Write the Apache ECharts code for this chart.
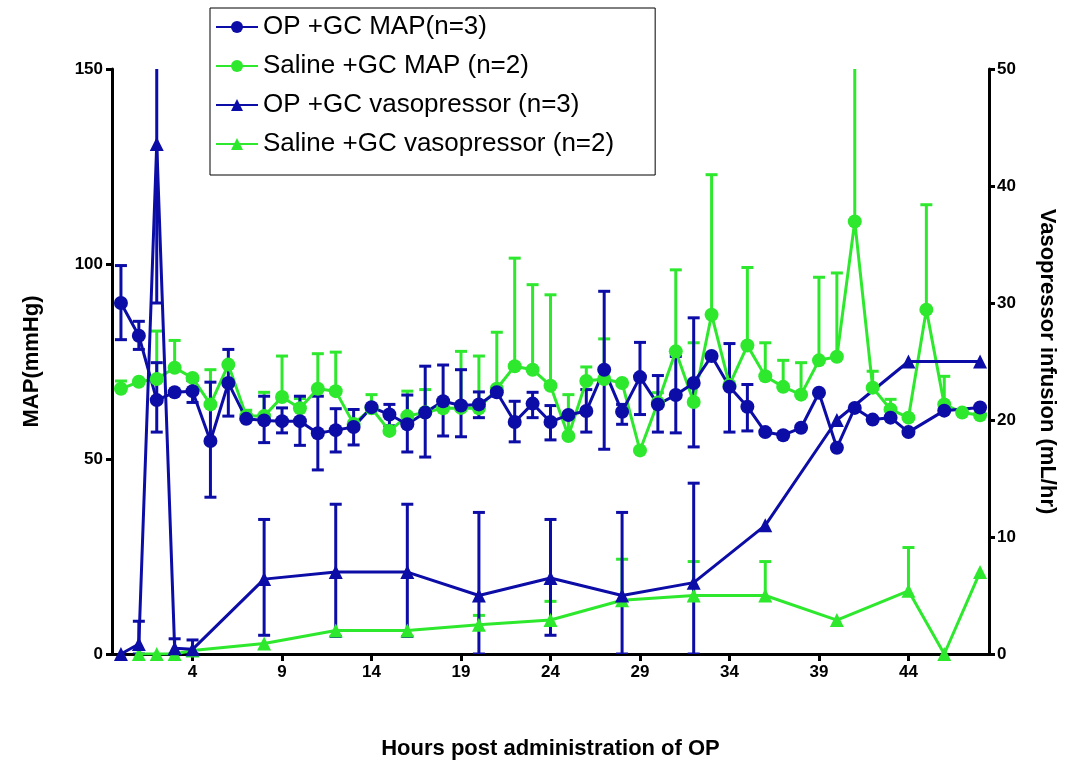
<!DOCTYPE html>
<html>
<head>
<meta charset="utf-8">
<script src="https://cdn.jsdelivr.net/npm/echarts@6/dist/echarts.min.js"></script>
<style>
  html, body { margin: 0; padding: 0; background: #fff; }
  #chart { width: 1066px; height: 765px; }
</style>
</head>
<body>
<div id="chart"></div>
<script>
// OP + GC MAP (left axis)
const opMapHours = [0,1,2,3,4,5,6,7,8,9,10,11,12,13,14,15,16,17,18,19,20,21,22,23,24,25,26,27,28,29,30,31,32,33,34,35,36,37,38,39,40,41,42,43,44,46,48];
const opMap = [90.0,81.6,65.1,67.1,67.4,54.6,69.5,60.3,59.9,59.7,59.7,56.6,57.4,58.2,63.3,61.4,58.9,61.9,64.8,63.7,64.0,67.1,59.5,64.2,59.5,61.3,62.3,72.9,62.1,71.0,64.0,66.4,69.5,76.4,68.5,63.4,56.9,56.1,58.0,67.0,52.9,63.1,60.1,60.6,56.9,62.4,63.2];
const opMapLow = [80.6,78.1,56.9,null,64.5,40.2,61.0,null,54.2,56.7,53.5,47.2,51.8,53.6,null,58.5,51.8,50.5,55.9,55.7,60.6,null,54.4,60.6,54.9,null,56.9,52.5,58.9,61.4,56.9,56.7,53.1,null,56.9,57.2,null,null,null,null,null,null,null,null,null,null,null];
const opMapHigh = [99.6,85.3,74.7,null,70.1,69.7,78.1,null,66.1,63.1,66.1,66.1,62.9,62.7,null,64.0,66.4,73.8,74.1,72.9,67.2,null,64.8,67.1,63.7,null,67.8,93.0,64.0,79.9,71.4,76.3,86.2,null,79.6,69.1,null,null,null,null,null,null,null,null,null,null,null];

// Saline + GC MAP (left axis)
const salMapHours = [0,1,2,3,4,5,6,7,8,9,10,11,12,13,14,15,16,17,18,19,20,21,22,23,24,25,26,27,28,29,30,31,32,33,34,35,36,37,38,39,40,41,42,43,44,45,46,47,48];
const salMap = [68.0,69.8,70.5,73.4,70.8,64.0,74.2,61.0,61.0,65.9,63.0,68.0,67.4,59.0,63.0,57.2,61.0,62.0,63.0,63.1,63.0,68.0,73.8,72.9,68.8,55.9,70.0,70.5,69.5,52.2,64.5,77.6,64.6,87.0,69.0,79.1,71.2,68.5,66.5,75.3,76.2,110.9,68.3,62.7,60.6,88.3,64.0,61.9,61.2];
const salMapHigh = [70.0,null,82.8,80.4,null,72.9,null,62.5,67.1,76.4,65.5,77.0,77.4,null,66.5,null,67.4,67.8,null,77.6,76.4,82.5,101.5,94.7,92.1,66.5,73.6,80.8,null,null,67.0,98.5,79.8,122.9,null,99.1,79.8,75.3,74.7,96.6,97.7,160,72.5,65.3,null,115.2,71.2,null,null];

// OP + GC vasopressor (right axis)
const opVasoHours = [0,1,2,3,4,8,12,16,20,24,28,32,36,40,44,48];
const opVaso = [0,0.85,43.6,0.5,0.4,6.4,7.0,7.0,5.0,6.5,5.0,6.1,11.0,20.0,25.0,25.0];
const opVasoLow = [null,0,30,0,0,1.6,1.5,1.5,0,1.6,0,0,null,null,null,null];
const opVasoHigh = [null,2.8,55,1.3,1.2,11.5,12.8,12.8,12.1,11.5,12.1,14.6,null,null,null,null];

// Saline + GC vasopressor (right axis)
const salVasoHours = [1,2,3,4,8,12,16,20,24,28,32,36,40,44,46,48];
const salVaso = [0,0,0,0.3,0.9,2.0,2.0,2.5,2.9,4.6,5.0,5.0,2.9,5.4,0,7.0];
const salVasoHigh = [null,null,null,null,null,null,null,3.3,4.5,8.1,7.9,7.9,null,9.1,null,null];

const xTicks = [4,9,14,19,24,29,34,39,44];

const BLUE = '#0c0ca6';
const GREEN = '#2ee82e';
const FONT = 'Arial, "Liberation Sans", sans-serif';

const pairs = (xs, ys) => xs.map((x, i) => [x, ys[i]]);
const bars = (xs, ys, lo, hi) => xs.map((x, i) => hi[i] == null ? null : [x, lo ? lo[i] : ys[i], hi[i]]).filter(d => d);

function errorBar(capBottom) {
  return function (params, api) {
    const x = api.value(0);
    const top = api.coord([x, api.value(2)]);
    const bot = api.coord([x, api.value(1)]);
    const half = 6;
    const style = { stroke: api.visual('color'), lineWidth: 3 };
    const kids = [
      { type: 'line', shape: { x1: top[0], y1: top[1], x2: bot[0], y2: bot[1] }, style },
      { type: 'line', shape: { x1: top[0] - half, y1: top[1], x2: top[0] + half, y2: top[1] }, style }
    ];
    if (capBottom) {
      kids.push({ type: 'line', shape: { x1: bot[0] - half, y1: bot[1], x2: bot[0] + half, y2: bot[1] }, style });
    }
    return { type: 'group', children: kids };
  };
}

const chart = echarts.init(document.getElementById('chart'));

const axisText = { color: '#000', fontWeight: 'bold', fontSize: 17, fontFamily: FONT };
const axisLine = { show: true, onZero: false, lineStyle: { color: '#000', width: 3 } };
const titleText = { color: '#000', fontWeight: 'bold', fontSize: 22, fontFamily: FONT };

chart.setOption({
  animation: false,
  backgroundColor: '#fff',
  grid: { left: 112, right: 76, top: 69, bottom: 110 },
  legend: {
    data: ['OP +GC MAP(n=3)', 'Saline +GC MAP (n=2)', 'OP +GC vasopressor (n=3)', 'Saline +GC vasopressor (n=2)'],
    orient: 'vertical',
    left: 210,
    top: 8,
    borderColor: '#000',
    borderWidth: 1,
    padding: [6, 41, 18, 5],
    itemGap: 13,
    itemWidth: 42,
    itemHeight: 15,
    textStyle: { color: '#000', fontSize: 26, fontFamily: FONT }
  },
  xAxis: {
    type: 'value',
    min: -0.5,
    max: 48.5,
    splitLine: { show: false },
    axisLine: axisLine,
    axisTick: { show: true, customValues: xTicks, length: 7, lineStyle: { width: 3, color: '#000' } },
    axisLabel: Object.assign({ customValues: xTicks, margin: 10 }, axisText),
    name: 'Hours post administration of OP',
    nameLocation: 'middle',
    nameGap: 84,
    nameTextStyle: titleText
  },
  yAxis: [
    {
      type: 'value',
      min: 0,
      max: 150,
      interval: 50,
      splitLine: { show: false },
      axisLine: axisLine,
      axisTick: { show: true, length: 6, lineStyle: { width: 3, color: '#000' } },
      axisLabel: Object.assign({ margin: 9 }, axisText),
      name: 'MAP(mmHg)',
      nameLocation: 'middle',
      nameRotate: 90,
      nameGap: 69,
      nameTextStyle: titleText
    },
    {
      type: 'value',
      min: 0,
      max: 50,
      interval: 10,
      position: 'right',
      splitLine: { show: false },
      axisLine: axisLine,
      axisTick: { show: true, length: 6, lineStyle: { width: 3, color: '#000' } },
      axisLabel: Object.assign({ margin: 8 }, axisText),
      name: 'Vasopressor infusion (mL/hr)',
      nameLocation: 'middle',
      nameRotate: -90,
      nameGap: 47,
      nameTextStyle: titleText
    }
  ],
  series: [
    {
      type: 'custom', yAxisIndex: 0, clip: true,
      itemStyle: { color: GREEN },
      renderItem: errorBar(false),
      encode: { x: 0, y: [1, 2] },
      data: bars(salMapHours, salMap, null, salMapHigh)
    },
    {
      name: 'Saline +GC MAP (n=2)', type: 'line', yAxisIndex: 0,
      data: pairs(salMapHours, salMap),
      symbol: 'circle', symbolSize: 14,
      lineStyle: { width: 3, color: GREEN },
      itemStyle: { color: GREEN }
    },
    {
      type: 'custom', yAxisIndex: 1, clip: true,
      itemStyle: { color: GREEN },
      renderItem: errorBar(false),
      encode: { x: 0, y: [1, 2] },
      data: bars(salVasoHours, salVaso, null, salVasoHigh)
    },
    {
      name: 'Saline +GC vasopressor (n=2)', type: 'line', yAxisIndex: 1,
      data: pairs(salVasoHours, salVaso),
      symbol: 'triangle', symbolSize: 14,
      lineStyle: { width: 3, color: GREEN },
      itemStyle: { color: GREEN }
    },
    {
      type: 'custom', yAxisIndex: 0, clip: true,
      itemStyle: { color: BLUE },
      renderItem: errorBar(true),
      encode: { x: 0, y: [1, 2] },
      data: bars(opMapHours, opMap, opMapLow, opMapHigh)
    },
    {
      name: 'OP +GC MAP(n=3)', type: 'line', yAxisIndex: 0,
      data: pairs(opMapHours, opMap),
      symbol: 'circle', symbolSize: 14,
      lineStyle: { width: 3, color: BLUE },
      itemStyle: { color: BLUE }
    },
    {
      type: 'custom', yAxisIndex: 1, clip: true,
      itemStyle: { color: BLUE },
      renderItem: errorBar(true),
      encode: { x: 0, y: [1, 2] },
      data: bars(opVasoHours, opVaso, opVasoLow, opVasoHigh)
    },
    {
      name: 'OP +GC vasopressor (n=3)', type: 'line', yAxisIndex: 1,
      data: pairs(opVasoHours, opVaso),
      symbol: 'triangle', symbolSize: 14,
      lineStyle: { width: 3, color: BLUE },
      itemStyle: { color: BLUE }
    }
  ]
});
</script>
</body>
</html>
